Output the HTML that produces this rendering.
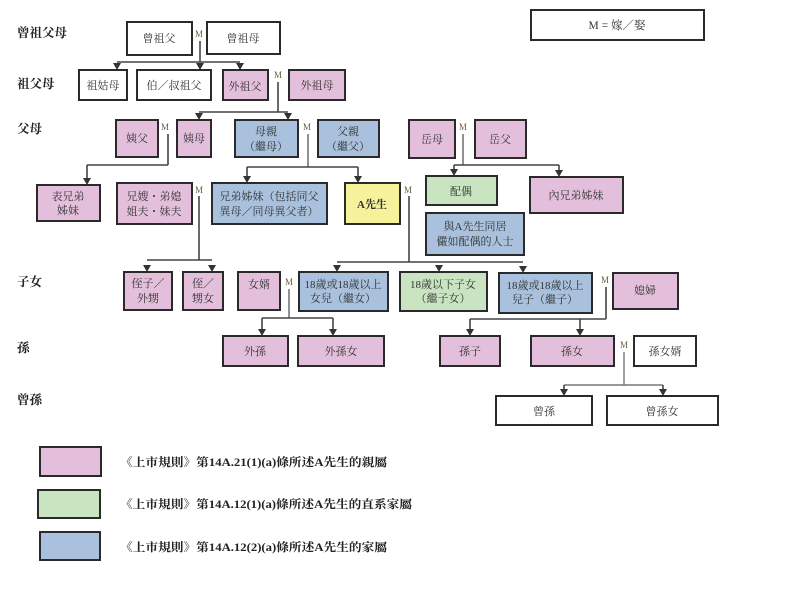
<!DOCTYPE html>
<html><head><meta charset="utf-8"><style>
html,body{margin:0;padding:0;background:#fff;}
svg{display:block;}
text{font-family:"Liberation Serif","Noto Serif CJK SC","Noto Sans CJK TC",serif;fill:#333;}
.b{stroke:#2a2a2a;stroke-width:2;}
.w{fill:#fff}.p{fill:#e3bfdb}.bl{fill:#a9c1dd}.g{fill:#c8e4c1}.y{fill:#f5f29b}
.l{stroke:#444;stroke-width:1.6;fill:none;}
.t{font-size:11px;text-anchor:middle;}
.r{font-size:12.5px;font-weight:bold;fill:#222;}
.m{font-size:9px;fill:#6a6040;text-anchor:middle;}
.lg{font-size:11.5px;font-weight:bold;fill:#222;}
.ah{fill:#333;stroke:none;}
</style></head><body>
<svg width="812" height="614" viewBox="0 0 812 614" xmlns="http://www.w3.org/2000/svg">
<!-- row labels -->
<text class="r" x="17" y="37">曾祖父母</text>
<text class="r" x="17" y="88">祖父母</text>
<text class="r" x="17" y="133">父母</text>
<text class="r" x="17" y="286">子女</text>
<text class="r" x="17" y="352">孫</text>
<text class="r" x="17" y="404">曾孫</text>

<!-- M legend -->
<rect class="b w" x="531" y="10" width="173" height="30"/>
<text class="t" x="617" y="29" style="font-size:11.5px">M = 嫁／娶</text>

<!-- connectors -->
<g class="l">
<line x1="200" y1="41" x2="200" y2="62"/>
<line x1="117" y1="62" x2="240" y2="62"/>
<line x1="278" y1="82" x2="278" y2="112"/>
<line x1="199" y1="112" x2="288" y2="112"/>
<line x1="168" y1="134" x2="168" y2="165"/>
<line x1="87" y1="165" x2="168" y2="165"/>
<line x1="308" y1="134" x2="308" y2="167" style="stroke:#777"/>
<line x1="247" y1="167" x2="358" y2="167"/>
<line x1="463" y1="134" x2="463" y2="165" style="stroke:#777"/>
<line x1="454" y1="165" x2="559" y2="165"/>
<line x1="199" y1="196" x2="199" y2="260"/>
<line x1="147" y1="260" x2="212" y2="260"/>
<line x1="409" y1="196" x2="409" y2="262"/>
<line x1="337" y1="262" x2="523" y2="262"/>
<line x1="289" y1="289" x2="289" y2="318" style="stroke:#777"/>
<line x1="262" y1="318" x2="333" y2="318"/>
<line x1="606" y1="287" x2="606" y2="319"/>
<line x1="470" y1="319" x2="606" y2="319"/>
<line x1="624" y1="352" x2="624" y2="385" style="stroke:#888"/>
<line x1="564" y1="385" x2="663" y2="385" style="stroke:#777"/>
<!-- arrow stems -->
<line x1="87" y1="165" x2="87" y2="179"/>
<line x1="247" y1="167" x2="247" y2="177"/>
<line x1="358" y1="167" x2="358" y2="177"/>
<line x1="454" y1="165" x2="454" y2="170"/>
<line x1="559" y1="165" x2="559" y2="171"/>
<line x1="262" y1="318" x2="262" y2="330"/>
<line x1="333" y1="318" x2="333" y2="330"/>
<line x1="470" y1="319" x2="470" y2="330"/>
<line x1="580" y1="319" x2="580" y2="330"/>
<line x1="564" y1="385" x2="564" y2="390"/>
<line x1="663" y1="385" x2="663" y2="390"/>
</g>
<g class="ah">
<polygon points="113,63 121,63 117,70"/>
<polygon points="196,63 204,63 200,70"/>
<polygon points="236,63 244,63 240,70"/>
<polygon points="195,113 203,113 199,120"/>
<polygon points="284,113 292,113 288,120"/>
<polygon points="83,178 91,178 87,185"/>
<polygon points="243,176 251,176 247,183"/>
<polygon points="354,176 362,176 358,183"/>
<polygon points="450,169 458,169 454,176"/>
<polygon points="555,170 563,170 559,177"/>
<polygon points="143,265 151,265 147,272"/>
<polygon points="208,265 216,265 212,272"/>
<polygon points="333,265 341,265 337,272"/>
<polygon points="435,265 443,265 439,272"/>
<polygon points="519,266 527,266 523,273"/>
<polygon points="258,329 266,329 262,336"/>
<polygon points="329,329 337,329 333,336"/>
<polygon points="466,329 474,329 470,336"/>
<polygon points="576,329 584,329 580,336"/>
<polygon points="560,389 568,389 564,396"/>
<polygon points="659,389 667,389 663,396"/>
</g>

<!-- row 1 -->
<rect class="b w" x="127" y="22" width="65" height="33"/>
<text class="t" x="159" y="42">曾祖父</text>
<text class="m" x="199" y="37">M</text>
<rect class="b w" x="207" y="22" width="73" height="32"/>
<text class="t" x="243" y="42">曾祖母</text>

<!-- row 2 -->
<rect class="b w" x="79" y="70" width="48" height="30"/>
<text class="t" x="103" y="89">祖姑母</text>
<rect class="b w" x="137" y="70" width="74" height="30"/>
<text class="t" x="174" y="89">伯／叔祖父</text>
<rect class="b p" x="223" y="70" width="45" height="30"/>
<text class="t" x="245" y="90">外祖父</text>
<text class="m" x="278" y="78">M</text>
<rect class="b p" x="289" y="70" width="56" height="30"/>
<text class="t" x="317" y="89">外祖母</text>

<!-- row 3 -->
<rect class="b p" x="116" y="120" width="42" height="37"/>
<text class="t" x="137" y="142">姨父</text>
<text class="m" x="165" y="130">M</text>
<rect class="b p" x="177" y="120" width="34" height="37"/>
<text class="t" x="194" y="142">姨母</text>
<rect class="b bl" x="235" y="120" width="63" height="37"/>
<text class="t" x="266" y="135">母親</text>
<text class="t" x="266" y="150">（繼母）</text>
<text class="m" x="307" y="130">M</text>
<rect class="b bl" x="318" y="120" width="61" height="37"/>
<text class="t" x="348" y="135">父親</text>
<text class="t" x="348" y="150">（繼父）</text>
<rect class="b p" x="409" y="120" width="46" height="38"/>
<text class="t" x="432" y="143">岳母</text>
<text class="m" x="463" y="130">M</text>
<rect class="b p" x="475" y="120" width="51" height="38"/>
<text class="t" x="500" y="143">岳父</text>

<!-- row 4 -->
<rect class="b p" x="37" y="185" width="63" height="36"/>
<text class="t" x="68" y="200">表兄弟</text>
<text class="t" x="68" y="214">姊妹</text>
<rect class="b p" x="117" y="183" width="75" height="41"/>
<text class="t" x="154" y="200">兄嫂・弟媳</text>
<text class="t" x="154" y="215">姐夫・妹夫</text>
<text class="m" x="199" y="193">M</text>
<rect class="b bl" x="212" y="183" width="115" height="41"/>
<text class="t" x="269" y="200">兄弟姊妹（包括同父</text>
<text class="t" x="269" y="215">異母／同母異父者）</text>
<rect class="b y" x="345" y="183" width="55" height="41"/>
<text class="t" x="372" y="208" style="font-weight:bold">A先生</text>
<text class="m" x="408" y="193">M</text>
<rect class="b g" x="426" y="176" width="71" height="29"/>
<text class="t" x="461" y="195">配偶</text>
<rect class="b p" x="530" y="177" width="93" height="36"/>
<text class="t" x="576" y="199">內兄弟姊妹</text>
<rect class="b bl" x="426" y="213" width="98" height="42"/>
<text class="t" x="475" y="230">與A先生同居</text>
<text class="t" x="475" y="245">儼如配偶的人士</text>

<!-- row 5 -->
<rect class="b p" x="124" y="272" width="48" height="38"/>
<text class="t" x="148" y="287">侄子／</text>
<text class="t" x="148" y="302">外甥</text>
<rect class="b p" x="183" y="272" width="40" height="38"/>
<text class="t" x="203" y="287">侄／</text>
<text class="t" x="203" y="302">甥女</text>
<rect class="b p" x="238" y="272" width="42" height="38"/>
<text class="t" x="259" y="288">女婿</text>
<text class="m" x="289" y="285">M</text>
<rect class="b bl" x="299" y="272" width="89" height="39"/>
<text class="t" x="343" y="288">18歲或18歲以上</text>
<text class="t" x="343" y="302">女兒（繼女）</text>
<rect class="b g" x="400" y="272" width="87" height="39"/>
<text class="t" x="443" y="288">18歲以下子女</text>
<text class="t" x="443" y="302">（繼子女）</text>
<rect class="b bl" x="499" y="273" width="93" height="40"/>
<text class="t" x="545" y="289">18歲或18歲以上</text>
<text class="t" x="545" y="303">兒子（繼子）</text>
<text class="m" x="605" y="283">M</text>
<rect class="b p" x="613" y="273" width="65" height="36"/>
<text class="t" x="645" y="294">媳婦</text>

<!-- row 6 -->
<rect class="b p" x="223" y="336" width="65" height="30"/>
<text class="t" x="255" y="355">外孫</text>
<rect class="b p" x="298" y="336" width="86" height="30"/>
<text class="t" x="341" y="355">外孫女</text>
<rect class="b p" x="440" y="336" width="60" height="30"/>
<text class="t" x="470" y="355">孫子</text>
<rect class="b p" x="531" y="336" width="83" height="30"/>
<text class="t" x="572" y="355">孫女</text>
<text class="m" x="624" y="348">M</text>
<rect class="b w" x="634" y="336" width="62" height="30"/>
<text class="t" x="665" y="355">孫女婿</text>

<!-- row 7 -->
<rect class="b w" x="496" y="396" width="96" height="29"/>
<text class="t" x="544" y="415">曾孫</text>
<rect class="b w" x="607" y="396" width="111" height="29"/>
<text class="t" x="662" y="415">曾孫女</text>

<!-- legend -->
<rect class="b p" x="40" y="447" width="61" height="29"/>
<text class="lg" x="120" y="466" textLength="267" lengthAdjust="spacingAndGlyphs">《上市規則》第14A.21(1)(a)條所述A先生的親屬</text>
<rect class="b g" x="38" y="490" width="62" height="28"/>
<text class="lg" x="120" y="508" textLength="292" lengthAdjust="spacingAndGlyphs">《上市規則》第14A.12(1)(a)條所述A先生的直系家屬</text>
<rect class="b bl" x="40" y="532" width="60" height="28"/>
<text class="lg" x="120" y="551" textLength="267" lengthAdjust="spacingAndGlyphs">《上市規則》第14A.12(2)(a)條所述A先生的家屬</text>
</svg>
</body></html>
